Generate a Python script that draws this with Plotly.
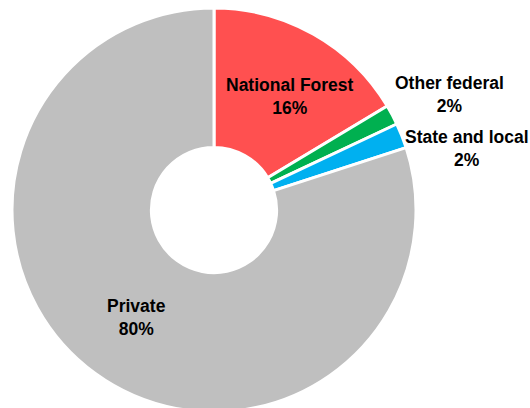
import plotly.graph_objects as go

labels = ["National Forest", "Other federal", "State and local", "Private"]
values = [16.4, 1.6, 2.0, 80.0]
colors = ["#FF5050", "#00B050", "#00B0F0", "#BFBFBF"]
# label centres in paper coordinates (text placement only)
label_x = [0.688, 1.084, 1.126, 0.307]
label_y = [0.782, 0.785, 0.651, 0.233]

total = sum(values)

fig = go.Figure(go.Pie(
    labels=labels,
    values=values,
    hole=0.31,
    sort=False,
    direction="clockwise",
    rotation=0,
    marker=dict(colors=colors, line=dict(color="white", width=3)),
    textinfo="none",
    showlegend=False,
    hoverinfo="label+percent",
    domain=dict(x=[0, 1], y=[0, 1]),
))

for lab, v, x, y in zip(labels, values, label_x, label_y):
    fig.add_annotation(
        x=x, y=y, xref="paper", yref="paper",
        text=f"<b>{lab}</b><br><b>{round(v / total * 100):.0f}%</b>",
        showarrow=False, xanchor="center", yanchor="middle",
        font=dict(family="Liberation Sans, Arial", size=17.5, color="black"),
        align="center",
    )

fig.update_layout(
    width=530, height=412,
    margin=dict(l=12, r=114, t=8, b=0),
    paper_bgcolor="white", plot_bgcolor="white",
)
fig.write_html(
    "out.html",
    config={"displayModeBar": False},
    post_script="document.body.style.margin='0';document.body.style.overflow='hidden';",
)
